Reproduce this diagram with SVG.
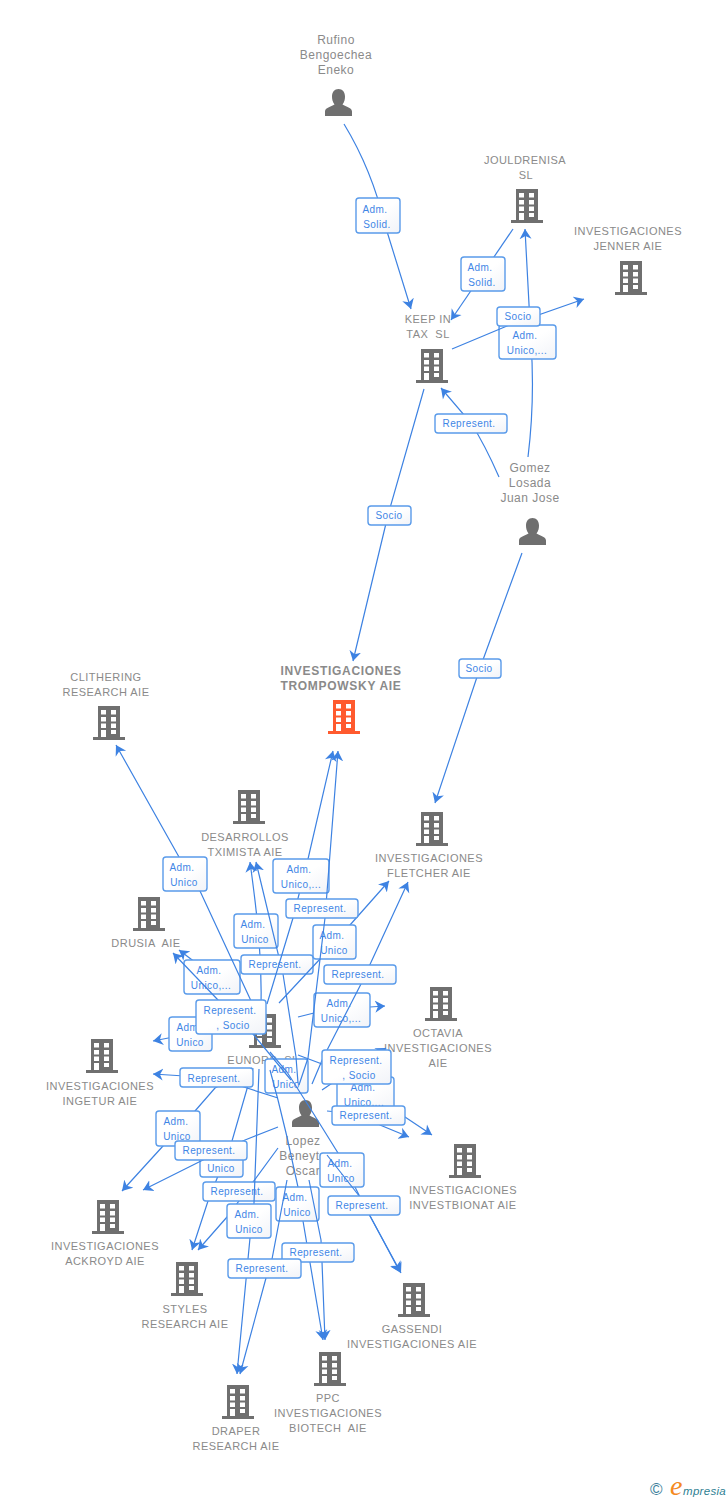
<svg xmlns="http://www.w3.org/2000/svg" width="728" height="1500" viewBox="0 0 728 1500">
<style>
text{font-family:"Liberation Sans",Arial,sans-serif;white-space:pre}
.n{font-size:11px;letter-spacing:.47px;fill:#8a8a8a;text-anchor:middle}
.p{font-size:12px;letter-spacing:.5px;fill:#8a8a8a;text-anchor:middle}
.m{font-size:12px;font-weight:bold;letter-spacing:.7px;fill:#8a8a8a;text-anchor:middle}
.l{font-size:10px;letter-spacing:.4px;fill:#3f86e6;text-anchor:middle}
.c{fill:none;stroke:#3d82e2;stroke-width:1.2;marker-end:url(#a)}
.b{fill:url(#g);stroke:#5a9bea;stroke-width:1.4}
.i{fill:#6f6f6f}
.o{fill:#ff5a2e}
</style>
<defs>
<linearGradient id="g" x1="0" y1="0" x2="1" y2="1"><stop offset="0" stop-color="#fff"/><stop offset=".5" stop-color="#fff"/><stop offset="1" stop-color="#f1f3f8"/></linearGradient>
<marker id="a" markerUnits="userSpaceOnUse" markerWidth="13" markerHeight="13" viewBox="0 0 13 13" refX="10" refY="6.500" orient="auto"><path d="M10,6.500 L0,.5 L3,6.500 L0,12.500Z" fill="#3d82e2"/></marker>
<symbol id="bld" viewBox="0 0 32 34" width="32" height="34"><path fill-rule="evenodd" d="M5,0H27V31H32V34H0V31H5ZM8,4v4.5h5V4ZM18,4v4.5h5V4ZM8,11v4.5h5V11ZM18,11v4.5h5V11ZM8,17.5V22h5V17.5ZM18,17.5V22h5V17.5ZM8,24V31h5V24ZM18,24v4h5V24Z"/></symbol>
<symbol id="per" viewBox="0 0 27 27" width="27" height="27"><path d="M0,27V22.500C0,18.500 6,18 9.500,15.500C7.500,13 7,10 7,7.500C7,3 9.500,0 13.500,0S20,3 20,7.500C20,10 19.500,13 17.500,15.500C21,18 27,18.500 27,22.500V27Z"/></symbol>
</defs>
<g id="nodes">
<g id="n-rufino"><text class="p" x="336" y="44">Rufino</text><text class="p" x="336" y="59">Bengoechea</text><text class="p" x="336" y="74">Eneko</text><use href="#per" class="i" x="325" y="89"/></g>
<g id="n-jouldrenisa"><text class="n" x="525" y="164">JOULDRENISA</text><text class="n" x="526" y="179">SL</text><use href="#bld" class="i" x="511" y="189"/></g>
<g id="n-jenner"><text class="n" x="628" y="235">INVESTIGACIONES</text><text class="n" x="628" y="250">JENNER AIE</text><use href="#bld" class="i" x="615" y="261"/></g>
<g id="n-keep"><text class="n" x="428" y="323">KEEP IN</text><text class="n" x="428" y="338">TAX  SL</text><use href="#bld" class="i" x="416" y="349"/></g>
<g id="n-gomez"><text class="p" x="530" y="472">Gomez</text><text class="p" x="530" y="487">Losada</text><text class="p" x="530" y="502">Juan Jose</text><use href="#per" class="i" x="519" y="518"/></g>
<g id="n-trompowsky"><text class="m" x="341" y="675">INVESTIGACIONES</text><text class="m" x="341" y="690">TROMPOWSKY AIE</text><use href="#bld" class="o" x="328" y="700"/></g>
<g id="n-clithering"><text class="n" x="106" y="681">CLITHERING</text><text class="n" x="106" y="696">RESEARCH AIE</text><use href="#bld" class="i" x="93" y="706"/></g>
<g id="n-desarrollos"><text class="n" x="245" y="841">DESARROLLOS</text><text class="n" x="245" y="856">TXIMISTA AIE</text><use href="#bld" class="i" x="233" y="790"/></g>
<g id="n-fletcher"><text class="n" x="429" y="862">INVESTIGACIONES</text><text class="n" x="429" y="877">FLETCHER AIE</text><use href="#bld" class="i" x="416" y="812"/></g>
<g id="n-drusia"><text class="n" x="146" y="947">DRUSIA  AIE</text><use href="#bld" class="i" x="133" y="897"/></g>
<g id="n-eunors"><text class="n" x="263" y="1064">EUNORS  SL</text><use href="#bld" class="i" x="249" y="1014"/></g>
<g id="n-octavia"><text class="n" x="438" y="1037">OCTAVIA</text><text class="n" x="438" y="1052">INVESTIGACIONES</text><text class="n" x="438" y="1067">AIE</text><use href="#bld" class="i" x="425" y="987"/></g>
<g id="n-ingetur"><text class="n" x="100" y="1090">INVESTIGACIONES</text><text class="n" x="100" y="1105">INGETUR AIE</text><use href="#bld" class="i" x="86" y="1039"/></g>
<g id="n-lopez"><text class="p" x="303" y="1145">Lopez</text><text class="p" x="303" y="1160">Beneyto</text><text class="p" x="303" y="1175">Oscar</text><use href="#per" class="i" x="292" y="1100"/></g>
<g id="n-investbionat"><text class="n" x="463" y="1194">INVESTIGACIONES</text><text class="n" x="463" y="1209">INVESTBIONAT AIE</text><use href="#bld" class="i" x="449" y="1144"/></g>
<g id="n-ackroyd"><text class="n" x="105" y="1250">INVESTIGACIONES</text><text class="n" x="105" y="1265">ACKROYD AIE</text><use href="#bld" class="i" x="92" y="1200"/></g>
<g id="n-styles"><text class="n" x="185" y="1313">STYLES</text><text class="n" x="185" y="1328">RESEARCH AIE</text><use href="#bld" class="i" x="171" y="1262"/></g>
<g id="n-gassendi"><text class="n" x="412" y="1333">GASSENDI</text><text class="n" x="412" y="1348">INVESTIGACIONES AIE</text><use href="#bld" class="i" x="398" y="1283"/></g>
<g id="n-ppc"><text class="n" x="328" y="1402">PPC</text><text class="n" x="328" y="1417">INVESTIGACIONES</text><text class="n" x="328" y="1432">BIOTECH  AIE</text><use href="#bld" class="i" x="314" y="1352"/></g>
<g id="n-draper"><text class="n" x="236" y="1435">DRAPER</text><text class="n" x="236" y="1450">RESEARCH AIE</text><use href="#bld" class="i" x="222" y="1385"/></g>
</g>
<g id="connectors">
<path class="c" d="M344,124Q372,170 385,225L411,309"/>
<rect class="b" x="356" y="198" width="44" height="35" rx="3"/><text class="l"><tspan x="375" y="212.500">Adm.</tspan><tspan x="377" y="227.500">Solid.</tspan></text>
<path class="c" d="M513,229L451,320"/>
<rect class="b" x="461" y="257" width="44" height="34" rx="3"/><text class="l"><tspan x="480" y="271">Adm.</tspan><tspan x="482" y="286">Solid.</tspan></text>
<path class="c" d="M528,457Q535,400 531,342L525,229"/>
<rect class="b" x="499" y="325" width="57" height="34" rx="3"/><text class="l"><tspan x="525" y="339">Adm.</tspan><tspan x="527" y="354">Unico,...</tspan></text>
<path class="c" d="M452,349L507,326L584,299"/>
<rect class="b" x="497" y="307" width="43" height="19" rx="3"/><text class="l" x="518" y="320">Socio</text>
<path class="c" d="M499,477Q485,445 471,423L441,388"/>
<rect class="b" x="435" y="414" width="72" height="19" rx="3"/><text class="l" x="469" y="427">Represent.</text>
<path class="c" d="M424,389L388,515L353,661"/>
<rect class="b" x="368" y="506" width="43" height="19" rx="3"/><text class="l" x="389" y="519">Socio</text>
<path class="c" d="M522,553L480,668L435,803"/>
<rect class="b" x="459" y="659" width="42" height="19" rx="3"/><text class="l" x="479" y="672">Socio</text>

<rect class="b" x="265" y="1059" width="43" height="34" rx="3"/><text class="l"><tspan x="284" y="1073">Adm.</tspan><tspan x="286" y="1088">Unico</tspan></text>
<path class="c" d="M252,1068L215,1088L195,1111L163,1146L122,1191"/>
<rect class="b" x="156" y="1111" width="44" height="35" rx="3"/><text class="l"><tspan x="176" y="1125">Adm.</tspan><tspan x="177" y="1140">Unico</tspan></text>
<path class="c" d="M253,1068L232,1141L208,1201L192,1250"/>
<rect class="b" x="200" y="1143" width="43" height="34" rx="3"/><text class="l" x="221" y="1172">Unico</text>
<path class="c" d="M240,1024L153,1041"/>
<rect class="b" x="169" y="1017" width="43" height="34" rx="3"/><text class="l"><tspan x="189" y="1031">Adm.</tspan><tspan x="190" y="1046">Unico</tspan></text>
<path class="c" d="M237,994L179,950"/>
<rect class="b" x="184" y="960" width="56" height="34" rx="3"/><text class="l"><tspan x="209" y="974">Adm.</tspan><tspan x="211" y="989">Unico,...</tspan></text>
<path class="c" d="M252,1003L200,891L179,857L116,745"/>
<rect class="b" x="163" y="857" width="44" height="34" rx="3"/><text class="l"><tspan x="182" y="871">Adm.</tspan><tspan x="184" y="886">Unico</tspan></text>
<path class="c" d="M261,1005C262,960 258,920 250,862"/>
<rect class="b" x="234" y="914" width="44" height="34" rx="3"/><text class="l"><tspan x="253" y="928">Adm.</tspan><tspan x="255" y="943">Unico</tspan></text>
<path class="c" d="M298,1083L296,1057L283,974L256,862"/>
<rect class="b" x="241" y="955" width="72" height="19" rx="3"/><text class="l" x="275" y="968">Represent.</text>
<path class="c" d="M279,1003L320,959L350,925L389,881"/>
<rect class="b" x="313" y="925" width="43" height="34" rx="3"/><text class="l"><tspan x="332" y="939">Adm.</tspan><tspan x="334" y="954">Unico</tspan></text>
<path class="c" d="M298,1017L314,1013L370,1007L385,1006"/>
<rect class="b" x="314" y="993" width="56" height="34" rx="3"/><text class="l"><tspan x="339" y="1007">Adm.</tspan><tspan x="341" y="1022">Unico,...</tspan></text>
<path class="c" d="M298,1055L322,1064L365,1094L405,1117L432,1135"/>
<rect class="b" x="337" y="1077" width="57" height="34" rx="3"/><text class="l"><tspan x="363" y="1091">Adm.</tspan><tspan x="364" y="1106">Unico,...</tspan></text>
<path class="c" d="M278,1098L216,1078L153,1074"/>
<rect class="b" x="180" y="1068" width="73" height="19" rx="3"/><text class="l" x="214" y="1082">Represent.</text>
<path class="c" d="M291,1080L253,1034L218,1000L173,953"/>
<rect class="b" x="196" y="1000" width="70" height="34" rx="3"/><text class="l"><tspan x="230" y="1014">Represent.</tspan><tspan x="233" y="1029">, Socio</tspan></text>
<path class="c" d="M278,1127L245,1140L203,1160L143,1190"/>
<rect class="b" x="175" y="1141" width="72" height="19" rx="3"/><text class="l" x="209" y="1154">Represent.</text>
<path class="c" d="M278,1148L253,1182L227,1217L198,1250"/>
<rect class="b" x="203" y="1182" width="72" height="19" rx="3"/><text class="l" x="237" y="1195">Represent.</text>
<path class="c" d="M259,1069L254,1203L250,1238L237,1374"/>
<rect class="b" x="227" y="1204" width="44" height="34" rx="3"/><text class="l"><tspan x="247" y="1218">Adm.</tspan><tspan x="249" y="1233">Unico</tspan></text>
<path class="c" d="M270,1070L278,1100L287,1137L298,1187L303,1221L323,1340"/>
<rect class="b" x="276" y="1187" width="43" height="34" rx="3"/><text class="l"><tspan x="295" y="1201">Adm.</tspan><tspan x="297" y="1216">Unico</tspan></text>
<path class="c" d="M270,1052L287,1072L310,1108L338,1153L360,1197L400,1272"/>
<rect class="b" x="320" y="1153" width="44" height="34" rx="3"/><text class="l"><tspan x="340" y="1167">Adm.</tspan><tspan x="341" y="1182">Unico</tspan></text>
<path class="c" d="M327,1155L360,1197L364,1205L401,1273"/>
<rect class="b" x="328" y="1196" width="72" height="19" rx="3"/><text class="l" x="362" y="1209">Represent.</text>
<path class="c" d="M309,1180L321,1240L322,1262L325,1340"/>
<rect class="b" x="282" y="1243" width="72" height="19" rx="3"/><text class="l" x="316" y="1256">Represent.</text>
<path class="c" d="M287,1180L272,1259L266,1278L240,1374"/>
<rect class="b" x="228" y="1259" width="73" height="19" rx="3"/><text class="l" x="262" y="1272">Represent.</text>
<path class="c" d="M267,1004L293,918L308,859L333,751"/>
<rect class="b" x="273" y="859" width="56" height="34" rx="3"/><text class="l"><tspan x="299" y="873">Adm.</tspan><tspan x="301" y="888">Unico,...</tspan></text>
<path class="c" d="M299,1085L308,1058L325,918L338,751"/>
<rect class="b" x="286" y="899" width="72" height="19" rx="3"/><text class="l" x="320" y="912">Represent.</text>
<path class="c" d="M312,1084L323,1058L361,984L408,882"/>
<rect class="b" x="324" y="965" width="72" height="19" rx="3"/><text class="l" x="358" y="978">Represent.</text>
<path class="c" d="M322,1090L356,1067L386,1048"/>
<rect class="b" x="322" y="1050" width="69" height="34" rx="3"/><text class="l"><tspan x="356" y="1064">Represent.</tspan><tspan x="359" y="1079">, Socio</tspan></text>
<path class="c" d="M327,1111L368,1115L380,1125L409,1137"/>
<rect class="b" x="332" y="1106" width="73" height="19" rx="3"/><text class="l" x="366" y="1119">Represent.</text>
</g>
<g id="logo">
<text x="650" y="1495" font-size="17" fill="#3d7f9c">©</text>
<text x="670" y="1495" font-size="28" font-style="italic" fill="#f58a1f" style="font-family:'Liberation Serif',serif">e</text>
<text x="683" y="1495" font-size="11.500" font-style="italic" letter-spacing=".3" fill="#2f7f93">mpresia</text>
</g>
</svg>
